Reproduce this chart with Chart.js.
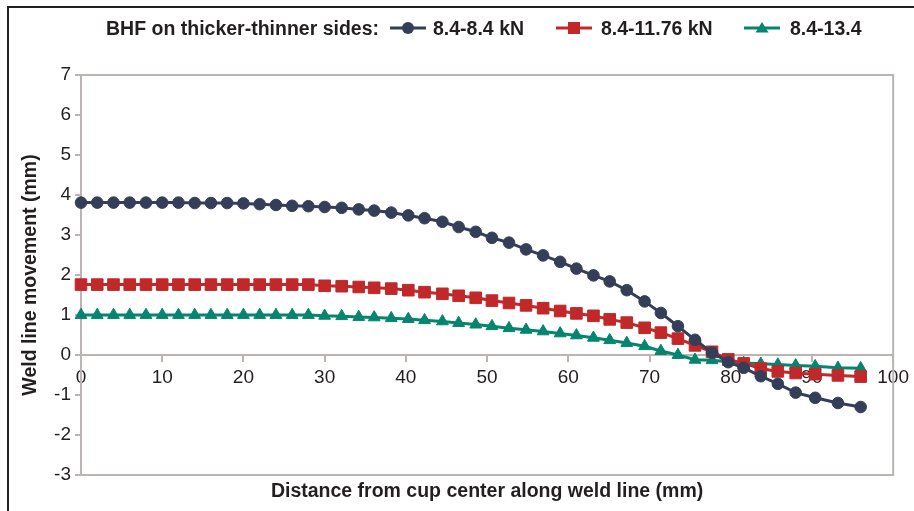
<!DOCTYPE html>
<html>
<head>
<meta charset="utf-8">
<script src="https://cdn.jsdelivr.net/npm/chart.js@4.4.1/dist/chart.umd.min.js"></script>
<style>
body{margin:0;background:#fff;font-family:"Liberation Sans",Arial,sans-serif}
#wrap{position:relative;width:914px;height:511px;overflow:hidden}
#frame{position:absolute;left:7px;top:6px;right:-5px;bottom:-5px;border-top:2.5px solid #231f20;border-left:2.5px solid #231f20;pointer-events:none}
#legend{position:absolute;top:0;left:0;width:914px;height:60px;color:#231f20;font-weight:bold;font-size:19.5px}
#legend div{position:absolute;top:16px;line-height:24px;white-space:nowrap}
#legend svg{position:absolute;top:20px}
</style>
</head>
<body>
<div id="wrap">
<canvas id="chart" width="914" height="511"></canvas>
<div id="legend"></div>
<div id="frame"></div>
</div>
<script>
// distance along weld line (mm)
const xs = [0,2,4,6,8,10,12,14,16,18,20,22,24,26,28,30,32.1,34.2,36.1,38.2,40.3,42.3,44.5,46.5,48.6,
50.6,52.7,54.8,56.9,59.0,61.0,63.1,65.1,67.2,69.4,71.4,73.5,75.6,77.7,79.7,81.6,83.7,85.8,88.0,90.4,93.2,96.0]

// weld line movement (mm)
const bhf84 = [3.81,3.81,3.81,3.81,3.81,3.81,3.81,3.80,3.80,3.80,3.79,3.77,3.75,3.73,3.72,3.70,3.68,3.64,3.61,3.56,3.49,3.42,3.33,3.20,3.08,
2.93,2.81,2.64,2.49,2.33,2.16,1.99,1.84,1.62,1.34,1.05,0.72,0.38,0.06,-0.18,-0.32,-0.53,-0.72,-0.94,-1.07,-1.20,-1.30]
const bhf1176 = [1.76,1.76,1.76,1.76,1.76,1.76,1.76,1.76,1.76,1.76,1.76,1.76,1.76,1.76,1.76,1.73,1.72,1.70,1.68,1.66,1.62,1.57,1.53,1.48,1.43,
1.36,1.30,1.24,1.17,1.10,1.04,0.98,0.89,0.81,0.68,0.56,0.41,0.24,0.08,-0.11,-0.21,-0.34,-0.41,-0.45,-0.48,-0.51,-0.54]
const bhf134 = [1.00,1.00,1.00,1.00,1.00,1.00,1.00,1.00,1.00,1.00,1.00,1.00,1.00,1.00,1.00,0.98,0.97,0.95,0.94,0.92,0.90,0.87,0.84,0.80,0.76,
0.72,0.67,0.63,0.59,0.54,0.49,0.43,0.37,0.30,0.22,0.10,0.00,-0.12,-0.13,-0.17,-0.20,-0.22,-0.24,-0.26,-0.28,-0.32,-0.33]

const names = ["8.4-8.4 kN","8.4-11.76 kN","8.4-13.4"]
const colors = ["#343e58","#c0282a","#05856e"]
const styles = ["circle","rect","triangle"]
const radii = [5.8,8.2,6.8]
const series = [bhf84,bhf1176,bhf134]

const legendTitle = "BHF on thicker-thinner sides:"
const xTitle = "Distance from cup center along weld line (mm)"
const yTitle = "Weld line movement (mm)"

const axisColor = "#bab5b3"
const textColor = "#231f20"

// legend (html)
const legendPos = [[390,433],[556,601],[744,790]]
let lg = `<div style="left:106px">${legendTitle}</div>`
names.forEach((n,i)=>{
const c = colors[i]
let m
if(styles[i]=="circle") m = `<circle cx="18" cy="8" r="6" fill="${c}"/>`
else if(styles[i]=="rect") m = `<rect x="12" y="2" width="12" height="12" fill="${c}"/>`
else m = `<polygon points="18,2 24.5,12.5 11.5,12.5" fill="${c}"/>`
lg += `<svg style="left:${legendPos[i][0]}px" width="36" height="16"><line x1="0" y1="8" x2="36" y2="8" stroke="${c}" stroke-width="3"/>${m}</svg>`
lg += `<div style="left:${legendPos[i][1]}px">${n}</div>`
})
document.getElementById("legend").innerHTML = lg

const plotBox = {
id:"plotBox",
beforeDatasetsDraw(chart){
const {ctx, chartArea:a} = chart
ctx.save()
ctx.strokeStyle = axisColor
ctx.lineWidth = 2
ctx.strokeRect(a.left, a.top, a.right-a.left, a.bottom-a.top)
ctx.restore()
}
}

new Chart(document.getElementById("chart"),{
type:"scatter",
data:{
datasets: series.map((s,i)=>({
label:names[i],
data: xs.map((x,j)=>({x:x, y:s[j]})),
showLine:true,
borderColor:colors[i],
backgroundColor:colors[i],
borderWidth:3,
pointStyle:styles[i],
pointRadius:radii[i],
pointBorderWidth:1,
pointHoverRadius:radii[i],
clip:false,
xAxisID:"x",
yAxisID:"y"
}))
},
options:{
responsive:false,
devicePixelRatio:1,
animation:false,
layout:{padding:{left:8,right:17,top:75,bottom:0}},
plugins:{legend:{display:false},tooltip:{enabled:false}},
scales:{
x:{
type:"linear",
position:{y:0},
min:0,max:100,
ticks:{stepSize:10,font:{size:19,family:"Liberation Sans"},color:textColor,padding:5,maxRotation:0},
grid:{drawOnChartArea:false,tickLength:6,color:axisColor,lineWidth:2},
border:{color:axisColor,width:2},
afterFit(s){s.height=0}
},
xb:{
type:"linear",
position:"bottom",
ticks:{display:false},
grid:{display:false},
border:{display:false},
title:{display:true,text:xTitle,color:textColor,font:{size:19.5,weight:"bold",family:"Liberation Sans"},padding:{top:0,bottom:8}},
afterFit(s){s.height=36}
},
y:{
type:"linear",
position:"left",
min:-3,max:7,
ticks:{stepSize:1,font:{size:19,family:"Liberation Sans"},color:textColor,padding:4},
grid:{drawOnChartArea:false,tickLength:6,color:axisColor,lineWidth:2},
border:{color:axisColor,width:2},
title:{display:true,text:yTitle,color:textColor,font:{size:19.5,weight:"bold",family:"Liberation Sans"},padding:{top:11,bottom:0}},
afterFit(s){s.width=73}
}
}
},
plugins:[plotBox]
})
</script>
</body>
</html>
